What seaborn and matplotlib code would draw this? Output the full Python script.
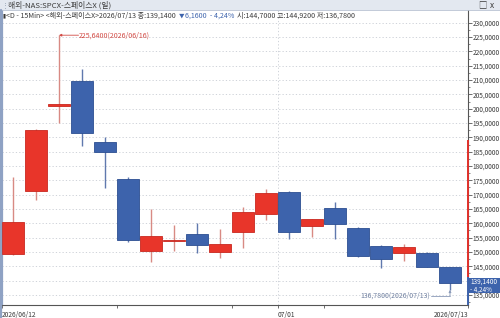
import matplotlib
matplotlib.use("Agg")
import matplotlib.pyplot as plt
import matplotlib.transforms as mtransforms
import seaborn as sns
import numpy as np
import pandas as pd
from matplotlib.patches import Rectangle
from matplotlib.lines import Line2D

# ---------------- data ----------------
dates = ["2026/06/12", "2026/06/15", "2026/06/16", "2026/06/17", "2026/06/18",
         "2026/06/22", "2026/06/23", "2026/06/24", "2026/06/25", "2026/06/26",
         "2026/06/29", "2026/06/30", "2026/07/01", "2026/07/02", "2026/07/06",
         "2026/07/07", "2026/07/08", "2026/07/09", "2026/07/10", "2026/07/13"]
opens  = [149.3, 171.3, 200.8, 209.8, 188.3, 175.5, 150.4, 153.7, 156.2, 149.9,
          156.9, 163.2, 171.1, 159.1, 165.4, 158.3, 152.1, 149.8, 149.6, 144.70]
highs  = [176.3, 193.0, 225.64, 213.7, 190.0, 176.3, 165.0, 159.4, 160.2, 157.9,
          165.8, 172.0, 171.3, 161.6, 167.5, 158.6, 152.3, 152.8, 150.0, 144.92]
lows   = [149.0, 168.2, 195.1, 187.0, 172.3, 153.6, 146.6, 150.4, 149.6, 148.0,
          151.3, 161.2, 154.6, 155.4, 154.6, 148.4, 144.5, 147.0, 144.6, 136.78]
closes = [160.4, 192.6, 201.6, 191.6, 184.8, 154.1, 155.5, 154.2, 152.5, 152.7,
          163.9, 170.5, 157.1, 161.5, 159.9, 148.6, 147.7, 151.7, 144.7, 139.14]
y_ticks = list(range(135, 231, 5))
x_tick_labels = ["2026/06/12", "07/01", "2026/07/13"]
range_high, range_mid = 189.0, 141.3      # red/blue marker on the price axis
last_close, change, change_pct = 139.14, 6.16, -4.24
max_label = "225,6400(2026/06/16)"
min_label = "136,7800(2026/07/13)"

df = pd.DataFrame({"date": dates, "open": opens, "high": highs,
                   "low": lows, "close": closes})
df["idx"] = np.arange(len(df))
df["up"] = df["close"] >= df["open"]

# ---------------- style ----------------
sns.set_theme(style="white")
FONT = ["Noto Sans CJK KR", "DejaVu Sans"]
plt.rcParams["font.family"] = FONT

W, H = 500, 318
fig = plt.figure(figsize=(W / 100, H / 100), dpi=100)
fig.patch.set_facecolor("white")


def fx(px):
    return px / W


def fy(py):
    return 1 - py / H


ax_l, ax_r, ax_t, ax_b = 1.5, 468, 10, 305
ax = fig.add_axes([fx(ax_l), fy(ax_b), fx(ax_r - ax_l), (ax_b - ax_t) / H])
ax.set_facecolor("white")

RED, RED_EDGE, RED_WICK = "#E8352A", "#C9281F", "#D88A84"
BLUE, BLUE_EDGE, BLUE_WICK = "#3D63AC", "#2C4F92", "#6079AE"
TXT = "#3A3A3A"
FS_Y = 4.7
FS_X = 4.8

# wicks
for up, wc in [(True, RED_WICK), (False, BLUE_WICK)]:
    d = df[df["up"] == up]
    ax.vlines(d["idx"], d["low"], d["high"], color=wc, lw=1.0, zorder=2)

# bodies
for up, fc, ec in [(True, RED, RED_EDGE), (False, BLUE, BLUE_EDGE)]:
    d = df[df["up"] == up]
    bottom = np.minimum(d["open"], d["close"])
    height = np.maximum(np.abs(d["close"] - d["open"]), 0.4)
    ax.bar(d["idx"], height, bottom=bottom, width=0.93, color=fc,
           edgecolor=ec, linewidth=0.6, zorder=3)

x_right = -0.5 + (ax_r - ax_l) / 23.0
ax.set_xlim(-0.5, x_right)
ax.set_ylim(131.5, 234.43)

# grid
for yv in y_ticks:
    ax.axhline(yv, color="#C8CCD4", lw=0.6, ls=(0, (1.5, 2.5)), zorder=1)
ax.axvline(11.5, color="#C8CCD4", lw=0.6, ls=(0, (1.5, 2.5)), zorder=1)

# y axis on right (the 140 label sits under the price box, as in the source)
ax.yaxis.tick_right()
ax.set_yticks(y_ticks)
ax.set_yticklabels(["" if v == 140 else f"{v:.4f}".replace(".", ",")
                    for v in y_ticks])
ax.set_yticks([v + 2.5 for v in y_ticks[:-1]] + [132.5], minor=True)
ax.tick_params(axis="y", which="major", direction="out", length=3, width=0.6,
               color="#555555", labelsize=FS_Y, labelcolor=TXT, pad=0.4,
               right=True, left=False)
ax.tick_params(axis="y", which="minor", direction="out", length=1.5,
               width=0.5, color="#555555", right=True, left=False)

# x axis
ax.set_xticks([-0.5, 11.5, x_right])
ax.set_xticklabels(x_tick_labels)
xlabels = ax.get_xticklabels()
for lbl in xlabels[:2]:
    lbl.set_horizontalalignment("left")
xlabels[-1].set_horizontalalignment("right")
xlabels[-1].set_transform(xlabels[-1].get_transform() +
                          mtransforms.ScaledTranslation(31.5 / 100, 0,
                                                        fig.dpi_scale_trans))
ax.set_xticks([4.5, 9.5, 13.5], minor=True)
ax.tick_params(axis="x", which="major", direction="out", length=2.5, width=0.6,
               color="#555555", labelsize=FS_X, labelcolor=TXT, pad=1.5,
               bottom=True)
ax.tick_params(axis="x", which="minor", direction="out", length=2.5,
               width=0.6, color="#555555", bottom=True)

ax.spines["top"].set_visible(False)
ax.spines["left"].set_color("#8FA2C4")
ax.spines["left"].set_linewidth(1.6)
ax.spines["right"].set_color("#555555")
ax.spines["right"].set_linewidth(0.8)
ax.spines["bottom"].set_color("#555555")
ax.spines["bottom"].set_linewidth(0.8)

# range marker on the price axis
ax.plot([x_right, x_right], [range_high, range_mid], color="#E0302A", lw=1.4,
        clip_on=False, zorder=6, solid_capstyle="butt")
ax.plot([x_right, x_right], [range_mid, 131.5], color="#3D63AC", lw=1.4,
        clip_on=False, zorder=6, solid_capstyle="butt")

# max annotation
imax = int(np.argmax(highs))
ax.annotate("", xy=(imax, highs[imax]), xytext=(imax + 0.85, highs[imax]),
            arrowprops=dict(arrowstyle="-|>", color="#D24A44", lw=0.6,
                            mutation_scale=3.5, shrinkA=0, shrinkB=0),
            zorder=5)
ax.text(imax + 0.87, highs[imax], max_label, color="#D24A44", fontsize=5.1,
        va="center", ha="left", zorder=5)

# min annotation
imin = int(np.argmin(lows))
y_line = 134.7
ax.plot([imin - 0.83, imin], [y_line, y_line], color="#8A9AB8", lw=0.6, zorder=5)
ax.annotate("", xy=(imin, lows[imin]), xytext=(imin, y_line),
            arrowprops=dict(arrowstyle="-|>", color="#8A9AB8", lw=0.6,
                            mutation_scale=3.5, shrinkA=0, shrinkB=0),
            zorder=5)
ax.text(imin - 0.85, y_line, min_label, color="#6E7F9F", fontsize=5.0,
        va="center", ha="right", zorder=5)

# price box on the axis
fig.add_artist(Rectangle((fx(469), fy(293)), fx(31), 15 / H,
                         transform=fig.transFigure, facecolor="#3D63AC",
                         edgecolor="none", zorder=10))
fig.text(fx(470.5), fy(281.8), f"{last_close:.4f}".replace(".", ","),
         color="white", fontsize=4.6, va="center", ha="left", zorder=11)
fig.text(fx(470.5), fy(289.2), f"- {abs(change_pct):.2f}%".replace(".", ","),
         color="white", fontsize=4.6, va="center", ha="left", zorder=11)

# title bar
fig.add_artist(Rectangle((0, fy(10)), 1, 10 / H, transform=fig.transFigure,
                         facecolor="#E3E8F0", edgecolor="none", zorder=1))
fig.add_artist(Line2D([0, 1], [fy(10), fy(10)], transform=fig.transFigure,
                      color="#B8C2D2", lw=0.6, zorder=2))
fig.text(fx(8.5), fy(5), "해외-NAS:SPCX-스페이스X (일)", color=TXT, fontsize=5.6,
         va="center", ha="left", zorder=3)
fig.text(fx(1.5), fy(5), "⋮", color="#8896AA", fontsize=5.0, va="center",
         ha="left", zorder=3, family=FONT)
fig.text(fx(478), fy(5), "□", color=TXT, fontsize=6, va="center", ha="left",
         zorder=3, family=FONT)
fig.text(fx(490), fy(5), "x", color=TXT, fontsize=6, va="center", ha="left",
         zorder=3)

# left window border
fig.add_artist(Line2D([fx(1), fx(1)], [0, fy(10)], transform=fig.transFigure,
                      color="#8FA2C4", lw=1.6, zorder=2))

# info line, laid out segment by segment
renderer = fig.canvas.get_renderer()
info_fs = 5.1
segments = [
    ("▮", "#3A3A3A", 4.0, 0.5),
    ("<D - 15Min> <해외-스페이스X>2026/07/13 종:" +
     f"{last_close:.4f}".replace(".", ","), TXT, info_fs, 3.0),
    ("▼", "#3D63AC", 4.0, 0.5),
    (f"{change:.4f}".replace(".", ",") +
     f"  - {abs(change_pct):.2f}%".replace(".", ","), "#3D63AC", info_fs, 3.0),
    ("시:144,7000 고:144,9200 저:136,7800", TXT, info_fs, 0.0),
]
xcur = 2.5
for s, col, fsz, gap in segments:
    t = fig.text(fx(xcur), fy(16), s, color=col, fontsize=fsz, va="center",
                 ha="left", zorder=3, family=FONT)
    w = t.get_window_extent(renderer).width
    xcur += w + gap

fig.savefig("out.png", dpi=100)
